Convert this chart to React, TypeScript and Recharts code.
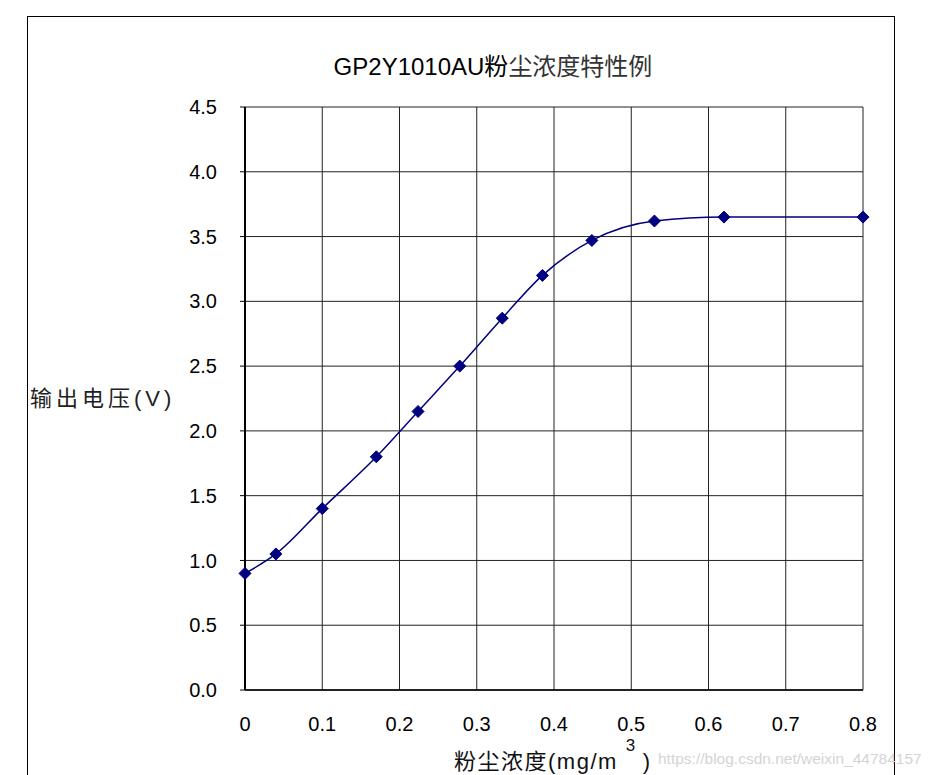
import { LineChart, Line, XAxis, YAxis, CartesianGrid } from 'recharts';

// dust concentration (mg/m3) vs output voltage (V)
const concentration = [0, 0.04, 0.1, 0.17, 0.224, 0.278, 0.333, 0.385, 0.449, 0.53, 0.62, 0.8];
const voltage = [0.9, 1.05, 1.4, 1.8, 2.15, 2.5, 2.87, 3.2, 3.47, 3.62, 3.65, 3.65];
const xTicks = [0, 0.1, 0.2, 0.3, 0.4, 0.5, 0.6, 0.7, 0.8];
const yTicks = [0, 0.5, 1, 1.5, 2, 2.5, 3, 3.5, 4, 4.5];

const data = concentration.map((c, i) => ({ c, v: voltage[i] }));

const FONT = '"Liberation Sans", Arial, "Noto Sans CJK SC", sans-serif';
const NAVY = '#000080';

function Diamond(props: any) {
  const { cx, cy } = props;
  if (cx == null || cy == null) return null;
  const r = 6;
  return (
    <polygon
      points={`${cx},${cy - r} ${cx + r},${cy} ${cx},${cy + r} ${cx - r},${cy}`}
      fill={NAVY}
      stroke={NAVY}
    />
  );
}

export default function App() {
  return (
    <div style={{ position: 'absolute', left: 0, top: 0, width: 933, height: 775, overflow: 'hidden', background: '#fff', fontFamily: FONT }}>
      {/* outer frame, bottom edge is cut off */}
      <div style={{ position: 'absolute', left: 27, top: 16, width: 866, height: 820, border: '1.5px solid #000' }} />

      <LineChart
        width={933}
        height={775}
        data={data}
        margin={{ top: 107, right: 70, bottom: 55, left: 185 }}
        style={{ position: 'absolute', left: 0, top: 0 }}
      >
        <CartesianGrid stroke="#222" strokeWidth={1} />
        <XAxis
          dataKey="c"
          type="number"
          domain={[0, 0.8]}
          ticks={xTicks}
          height={30}
          tickLine={false}
          tickSize={0}
          tickMargin={27}
          axisLine={{ stroke: '#000', strokeWidth: 1.5 }}
          tick={{ fill: '#000', fontSize: 20, fontFamily: FONT }}
        />
        <YAxis
          type="number"
          domain={[0, 4.5]}
          ticks={yTicks}
          width={60}
          tickSize={5}
          tickMargin={23}
          tickFormatter={(v: number) => v.toFixed(1)}
          axisLine={{ stroke: '#000', strokeWidth: 2 }}
          tickLine={{ stroke: '#000' }}
          tick={{ fill: '#000', fontSize: 20, fontFamily: FONT }}
        />
        <Line
          type="monotone"
          dataKey="v"
          stroke={NAVY}
          strokeWidth={1.5}
          dot={<Diamond />}
          activeDot={false}
          isAnimationActive={false}
        />
      </LineChart>

      <div style={{ position: 'absolute', left: 0, width: 986, top: 47, textAlign: 'center', fontSize: 24, color: '#000', whiteSpace: 'nowrap' }}>
        GP2Y1010AU粉<span style={{ color: '#333' }}>尘浓度特性例</span>
      </div>

      <div style={{ position: 'absolute', left: 30, top: 380, fontSize: 22, letterSpacing: 4, color: '#222', whiteSpace: 'nowrap' }}>
        输出电压(V)
      </div>

      <div style={{ position: 'absolute', left: 454, top: 743, fontSize: 22, letterSpacing: 1.5, color: '#111', whiteSpace: 'nowrap' }}>
        粉尘浓度(mg/m<span style={{ position: 'relative', top: -18, fontSize: 17, marginLeft: 8, marginRight: 6 }}>3</span>)
      </div>

      <div style={{ position: 'absolute', left: 658, top: 750, fontSize: 15.5, color: '#d4d4d4', whiteSpace: 'nowrap' }}>
        https://blog.csdn.net/weixin_44784157
      </div>
    </div>
  );
}
